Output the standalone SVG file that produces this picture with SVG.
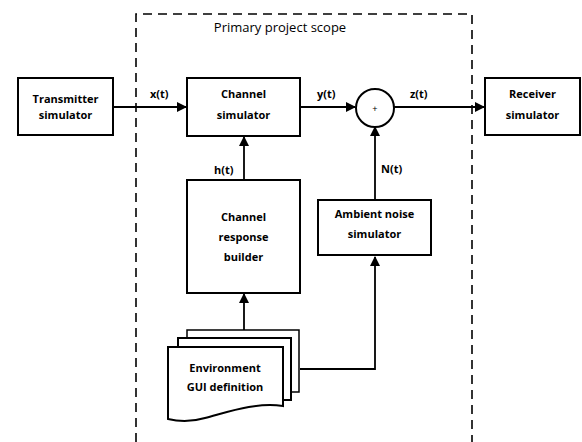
<svg xmlns="http://www.w3.org/2000/svg" width="582" height="442" viewBox="0 0 582 442">
<style>
.box{fill:#fff;stroke:#000;stroke-width:2}
.t{font-family:"Open Sans","Liberation Sans",sans-serif;font-size:11px;font-weight:bold;text-anchor:middle;fill:#000}
.lbl{font-family:"Open Sans","Liberation Sans",sans-serif;font-size:11px;font-weight:bold;fill:#000}
.ln{fill:none;stroke:#000;stroke-width:1.8}
</style>
<defs>
<marker id="ah" markerWidth="10" markerHeight="10" refX="9" refY="5" orient="auto" markerUnits="userSpaceOnUse">
<path d="M0,0 L10,5 L0,10 Z" fill="#000"/>
</marker>
</defs>
<rect width="582" height="442" fill="#fff"/>
<g id="scope">
<path d="M136,442 L136,14 L472,14 L472,442" fill="none" stroke="#000" stroke-width="1.6" stroke-dasharray="9,6"/>
<text x="280" y="32" font-family="Open Sans,Liberation Sans,sans-serif" font-size="13" text-anchor="middle">Primary project scope</text>
</g>
<g id="connectors">
<line class="ln" x1="113" y1="107" x2="186" y2="107" marker-end="url(#ah)"/>
<text class="lbl" x="150" y="98">x(t)</text>
<line class="ln" x1="300" y1="107" x2="355" y2="107" marker-end="url(#ah)"/>
<text class="lbl" x="317" y="98">y(t)</text>
<line class="ln" x1="394" y1="107" x2="484" y2="107" marker-end="url(#ah)"/>
<text class="lbl" x="410" y="98">z(t)</text>
<line class="ln" x1="244" y1="180" x2="244" y2="137" marker-end="url(#ah)"/>
<text class="lbl" x="214" y="174">h(t)</text>
<line class="ln" x1="375" y1="200" x2="375" y2="127" marker-end="url(#ah)"/>
<text class="lbl" x="381" y="173">N(t)</text>
<line class="ln" x1="244" y1="330" x2="244" y2="294" marker-end="url(#ah)"/>
<path class="ln" d="M300,369 L375,369 L375,257" marker-end="url(#ah)"/>
</g>
<g id="transmitter">
<rect class="box" x="18" y="78" width="95" height="57"/>
<text class="t" x="65.5" y="103">Transmitter</text>
<text class="t" x="65.5" y="119">simulator</text>
</g>
<g id="channel-sim">
<rect class="box" x="187" y="78" width="113" height="58"/>
<text class="t" x="243.5" y="98">Channel</text>
<text class="t" x="243.5" y="119">simulator</text>
</g>
<g id="sum">
<circle cx="375" cy="108" r="19" fill="#fff" stroke="#000" stroke-width="2"/>
<text x="375" y="112" font-family="Liberation Sans,sans-serif" font-size="9" text-anchor="middle">+</text>
</g>
<g id="receiver">
<rect class="box" x="485" y="78" width="95" height="57"/>
<text class="t" x="532.5" y="98">Receiver</text>
<text class="t" x="532.5" y="119">simulator</text>
</g>
<g id="channel-response">
<rect class="box" x="187" y="180" width="113" height="113"/>
<text class="t" x="243.5" y="221">Channel</text>
<text class="t" x="243.5" y="241">response</text>
<text class="t" x="243.5" y="261">builder</text>
</g>
<g id="noise">
<rect class="box" x="318" y="200" width="113" height="55"/>
<text class="t" x="374.5" y="218">Ambient noise</text>
<text class="t" x="374.5" y="238">simulator</text>
</g>
<g id="env">
<path d="M187,338 L187,330 L299,330 L299,392 L291,392" fill="#fff" stroke="#000" stroke-width="1.5"/>
<path d="M178,347 L178,338 L291,338 L291,400 L283,400" fill="#fff" stroke="#000" stroke-width="2"/>
<path class="box" d="M168,347 L283,347 L283,406 C255,402 228,412 205,418 C188,423 176,421 168,419 Z"/>
<text class="t" x="225" y="372">Environment</text>
<text class="t" x="225" y="391">GUI definition</text>
</g>
</svg>
